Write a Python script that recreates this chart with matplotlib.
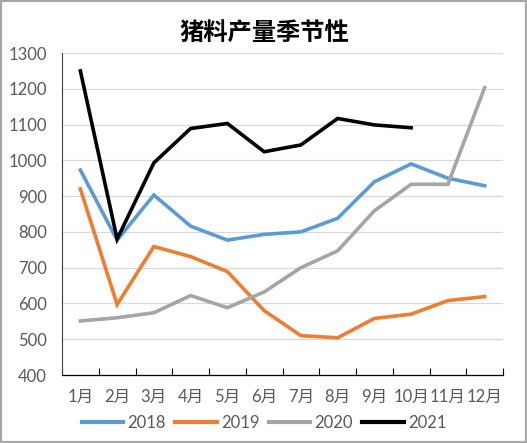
import matplotlib
matplotlib.use("Agg")
import matplotlib.pyplot as plt
from matplotlib.patches import Rectangle

months = ["1月", "2月", "3月", "4月", "5月", "6月", "7月", "8月", "9月", "10月", "11月", "12月"]
s2018 = [973, 777, 903, 816, 777, 793, 800, 838, 940, 990, 950, 929]
s2019 = [920, 597, 759, 731, 689, 580, 510, 504, 558, 570, 608, 619]
s2020 = [551, 560, 574, 622, 588, 632, 700, 747, 859, 933, 933, 1203]
s2021 = [1250, 780, 993, 1089, 1103, 1024, 1043, 1117, 1099, 1091]
series = [("2018", s2018, "#5B9BD5"), ("2019", s2019, "#ED7D31"),
          ("2020", s2020, "#A5A5A5"), ("2021", s2021, "#000000")]
yticks = list(range(400, 1301, 100))

fonts = ["Lato", "Noto Sans CJK SC", "DejaVu Sans"]
plt.rcParams["font.family"] = fonts
txt = "#595959"

fig = plt.figure(figsize=(5.27, 4.43), dpi=100)
ax = fig.add_axes([62/527, 68/443, 441/527, 322/443])

x = list(range(len(months)))
for name, vals, col in series:
    ax.plot(x[:len(vals)], vals, color=col, lw=2.6, label=name, solid_joinstyle="miter")

ax.set_xlim(-0.5, 11.5)
ax.set_ylim(400, 1300)
ax.set_yticks(yticks)
ax.set_yticklabels([str(v) for v in yticks], fontsize=12, color=txt)
ax.set_xticks(x)
ax.set_xticklabels(months, fontsize=12, color=txt)
ax.tick_params(axis="x", length=0, pad=10)
ax.tick_params(axis="y", length=0, pad=11)
ax.set_xticks([i - 0.5 for i in range(13)], minor=True)
ax.tick_params(axis="x", which="minor", length=5, direction="in", color="black", width=0.8)
ax.grid(axis="y", color="#D9D9D9", lw=0.9)
ax.set_axisbelow(True)
for sp in ["top", "right"]:
    ax.spines[sp].set_visible(False)
ax.spines["bottom"].set_color("black")
ax.spines["bottom"].set_linewidth(0.9)
ax.spines["left"].set_color("#404040")
ax.spines["left"].set_linewidth(0.8)

fig.text(264/527, 1 - 33/443, "猪料产量季节性", ha="center", va="center",
         fontsize=17.5, fontweight="bold", color="black",
         family=["Noto Sans CJK SC", "DejaVu Sans"])

leg = fig.legend(loc="center", bbox_to_anchor=(264/527, 1 - 423/443), ncol=4,
                 frameon=False, fontsize=12, handlelength=2.5, handletextpad=0.25,
                 columnspacing=0.55, labelcolor=txt)
for h in leg.get_lines():
    h.set_linewidth(3)

fig.patches.append(Rectangle((0, 0), 1, 1, transform=fig.transFigure,
                             fill=False, edgecolor="#A6A6A6", lw=3))
fig.savefig("out.png", dpi=100)
